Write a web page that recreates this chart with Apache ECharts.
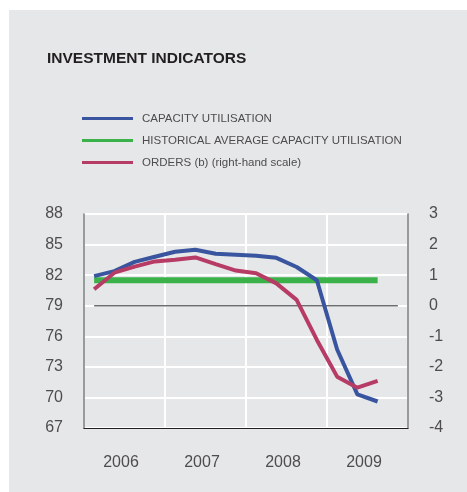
<!DOCTYPE html>
<html>
<head>
<meta charset="utf-8">
<script src="https://cdn.jsdelivr.net/npm/echarts@6/dist/echarts.min.js"></script>
<style>
  html, body { margin:0; padding:0; background:#fff; }
  #panel { position:absolute; left:9px; top:10px; width:458px; height:482px; background:#e6e7e8; }
  #chart { position:absolute; left:0; top:0; width:467px; height:492px; }
</style>
</head>
<body>
<div id="panel"></div>
<div id="chart"></div>
<script>
// quarters 2006Q1 .. 2009Q4 (last one has no data yet)
var quarters = ['2006Q1','2006Q2','2006Q3','2006Q4','2007Q1','2007Q2','2007Q3','2007Q4',
                '2008Q1','2008Q2','2008Q3','2008Q4','2009Q1','2009Q2','2009Q3','2009Q4'];
var years = ['2006','2007','2008','2009'];
var capacity = [81.9, 82.4, 83.3, 83.8, 84.3, 84.5, 84.1, 84.0, 83.9, 83.7, 82.8, 81.5, 74.7, 70.3, 69.6];
var histAvg  = [81.5, 81.5, 81.5, 81.5, 81.5, 81.5, 81.5, 81.5, 81.5, 81.5, 81.5, 81.5, 81.5, 81.5, 81.5];
var orders   = [0.54, 1.08, 1.28, 1.45, 1.50, 1.58, 1.36, 1.15, 1.06, 0.73, 0.19, -1.12, -2.32, -2.68, -2.46];
var zeroLine = [0, 0, 0, 0, 0, 0, 0, 0, 0, 0, 0, 0, 0, 0, 0, 0];

var names = ['CAPACITY UTILISATION', 'HISTORICAL AVERAGE CAPACITY UTILISATION', 'ORDERS (b) (right-hand scale)'];
var font = '"Liberation Sans", Arial, sans-serif';
var txtColor = '#4d4d4f';

var chart = echarts.init(document.getElementById('chart'));
var option = {
  animation: false,
  textStyle: { fontFamily: font },
  title: {
    text: 'INVESTMENT INDICATORS',
    left: 47, top: 51, padding: 0,
    textStyle: { fontSize: 15.5, fontWeight: 'bold', color: '#231f20', fontFamily: font }
  },
  legend: {
    data: names,
    orient: 'vertical',
    left: 82, top: 112, padding: 0,
    icon: 'rect',
    itemWidth: 51, itemHeight: 3,
    itemGap: 9,
    textStyle: { fontSize: 11.5, color: txtColor, lineHeight: 13, padding: [0, 0, 0, 4] }
  },
  grid: { left: 84, top: 214, width: 324, height: 214 },
  xAxis: [
    {
      type: 'category', data: years, boundaryGap: true, position: 'bottom',
      axisLine: { onZero: false, lineStyle: { color: '#231f20', width: 1.2 } },
      axisTick: { show: false },
      axisLabel: { fontSize: 16, color: txtColor, margin: 27, padding: [0, 7, 0, 0] },
      splitLine: { show: true, lineStyle: { color: '#ffffff', width: 2, opacity: 1 } }
    },
    {
      type: 'category', data: quarters, boundaryGap: true, show: false,
      axisLine: { show: false, onZero: false },
      splitLine: { show: false }
    }
  ],
  yAxis: [
    {
      type: 'value', min: 67, max: 88, interval: 3, position: 'left',
      axisLine: { show: true, lineStyle: { color: '#77787b', width: 1.5 } },
      axisTick: { show: false },
      axisLabel: { fontSize: 16, color: txtColor, margin: 21 },
      splitLine: { lineStyle: { color: '#ffffff', width: 2 } }
    },
    {
      type: 'value', min: -4, max: 3, interval: 1, position: 'right',
      axisLine: { show: true, lineStyle: { color: '#77787b', width: 1.5 } },
      axisTick: { show: false },
      axisLabel: { fontSize: 16, color: txtColor, margin: 21 },
      splitLine: { show: false }
    }
  ],
  series: [
    {
      name: 'zero', type: 'line', xAxisIndex: 1, yAxisIndex: 1, data: zeroLine,
      symbol: 'none', lineStyle: { color: '#6d6e71', width: 1.5 }, z: 1, silent: true
    },
    {
      name: names[1], type: 'line', xAxisIndex: 1, yAxisIndex: 0, data: histAvg,
      symbol: 'none', color: '#3bb14a', lineStyle: { color: '#3bb14a', width: 6 }, z: 2
    },
    {
      name: names[0], type: 'line', xAxisIndex: 1, yAxisIndex: 0, data: capacity,
      symbol: 'none', color: '#3a559f', lineStyle: { color: '#3a559f', width: 4 }, z: 3
    },
    {
      name: names[2], type: 'line', xAxisIndex: 1, yAxisIndex: 1, data: orders,
      symbol: 'none', color: '#b73c65', lineStyle: { color: '#b73c65', width: 4 }, z: 4
    }
  ]
};
chart.setOption(option);
</script>
</body>
</html>
